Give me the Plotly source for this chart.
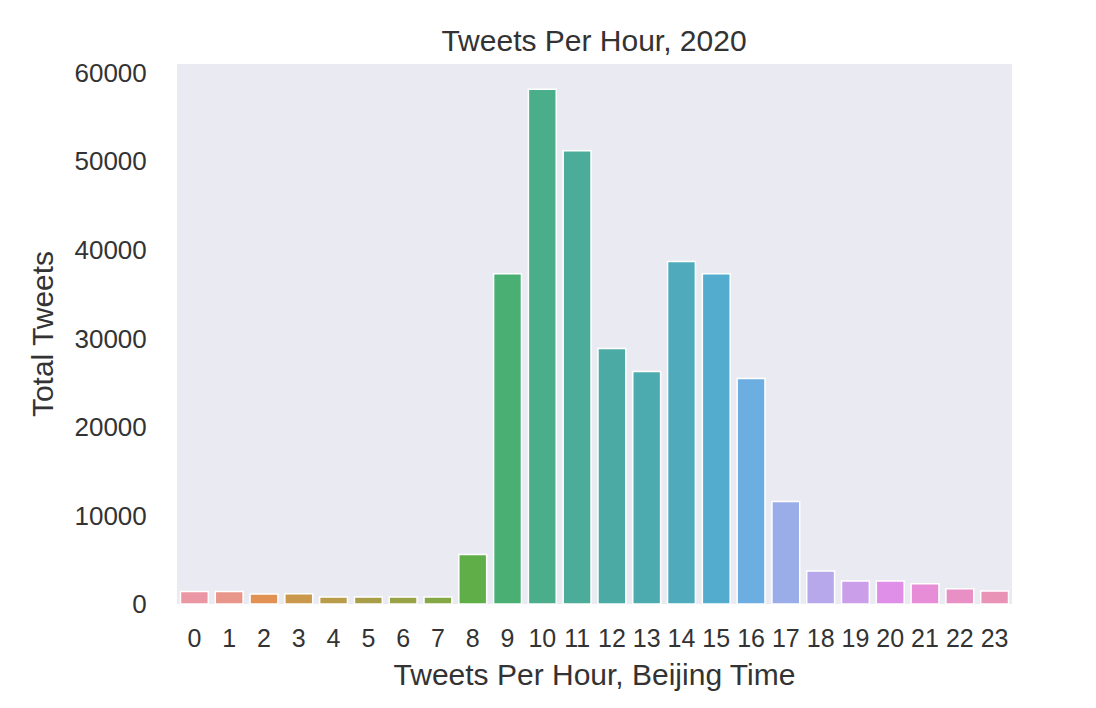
import math
import colorsys
import plotly.graph_objects as go

# hour of day (Beijing time) and tweet counts
hours = list(range(24))
tweets = [1420, 1400, 1130, 1150, 790, 780, 780, 790, 5600, 37300,
          58150, 51200, 28850, 26250, 38680, 37300, 25460, 11590,
          3730, 2600, 2600, 2290, 1730, 1470]

# seaborn husl palette (l=.7) with the barplot desaturation of .75
M = [[3.2406, -1.5372, -0.4986],
     [-0.9689, 1.8758, 0.0415],
     [0.0557, -0.2040, 1.0570]]
REF_U, REF_V = 0.19784, 0.46834


def lch_to_linear(L, C, H):
    hrad = math.radians(H)
    u, v = C * math.cos(hrad), C * math.sin(hrad)
    var_u = u / (13 * L) + REF_U
    var_v = v / (13 * L) + REF_V
    Y = ((L + 16) / 116) ** 3 if L > 8 else L / 903.3
    X = -(9 * Y * var_u) / ((var_u - 4) * var_v - var_u * var_v)
    Z = (9 * Y - 15 * var_v * Y - var_v * X) / (3 * var_v)
    return [row[0] * X + row[1] * Y + row[2] * Z for row in M]


def husl_to_rgb(H, S, L):
    lo, hi = 0.0, 200.0
    for _ in range(50):
        mid = (lo + hi) / 2
        if all(-1e-9 <= c <= 1 + 1e-9 for c in lch_to_linear(L, mid, H)):
            lo = mid
        else:
            hi = mid
    lin = lch_to_linear(L, lo * S / 100, H)
    out = []
    for c in lin:
        c = 12.92 * c if c <= 0.0031308 else 1.055 * c ** (1 / 2.4) - 0.055
        out.append(min(max(c, 0), 1))
    return out


def palette(n, h=0.01, s=0.9, l=0.7, sat=0.75):
    cols = []
    for i in range(n):
        hue = ((i / n + h) % 1) * 359
        r, g, b = husl_to_rgb(hue, s * 99, l * 99)
        hh, ll, ss = colorsys.rgb_to_hls(r, g, b)
        r, g, b = colorsys.hls_to_rgb(hh, ll, ss * sat)
        cols.append("rgb(%d,%d,%d)" % (round(r * 255), round(g * 255), round(b * 255)))
    return cols


colors = palette(len(hours))

fig = go.Figure(go.Bar(
    x=hours,
    y=tweets,
    marker=dict(color=colors, line=dict(color="white", width=1.5)),
))

font = dict(family="Liberation Sans, Arial, sans-serif", color="#333333")

fig.update_layout(
    width=1096,
    height=708,
    margin=dict(l=169, r=92, t=56, b=112),
    paper_bgcolor="white",
    plot_bgcolor="#EAEAF2",
    font=dict(size=26, **font),
    bargap=0.2,
    showlegend=False,
    title=dict(text="Tweets Per Hour, 2020", x=0.5347, xanchor="center",
               y=0.954, yanchor="middle", font=dict(size=30)),
    xaxis=dict(
        title=dict(text="Tweets Per Hour, Beijing Time", font=dict(size=30), standoff=12),
        tickmode="array", tickvals=hours, ticktext=[str(h) for h in hours],
        range=[-0.5, 23.5], showgrid=False, zeroline=False, showline=False,
        ticks="outside", ticklen=12, tickcolor="rgba(0,0,0,0)",
        tickfont=dict(size=25),
    ),
    yaxis=dict(
        title=dict(text="Total Tweets", font=dict(size=30), standoff=11),
        range=[0, 61000], tickvals=[0, 10000, 20000, 30000, 40000, 50000, 60000],
        tickformat="d", showgrid=False, zeroline=False, showline=False,
        ticks="outside", ticklen=24, tickcolor="rgba(0,0,0,0)",
        tickfont=dict(size=26),
    ),
)

fig.write_html("out.html")
